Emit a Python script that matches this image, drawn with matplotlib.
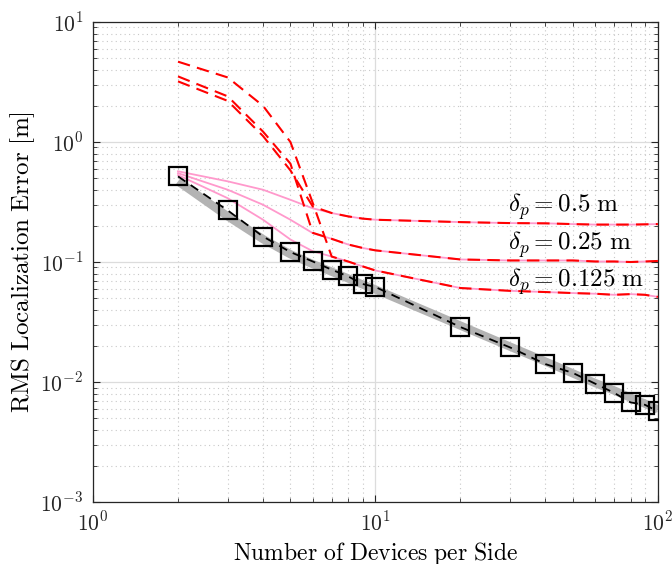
import math
import matplotlib
matplotlib.use("Agg")
import matplotlib.pyplot as plt
from matplotlib.ticker import FuncFormatter, LogLocator, NullFormatter

plt.rcParams['mathtext.fontset'] = 'cm'
plt.rcParams['font.family'] = ['DejaVu Serif']

# ---- data ----
N = [2, 3, 4, 5, 6, 7, 8, 9, 10, 20, 30, 40, 50, 60, 70, 80, 90, 100]
rmse_sim = [0.517, 0.269, 0.163, 0.121, 0.101, 0.0863, 0.0759, 0.0656, 0.0619,
            0.0287, 0.0194, 0.0141, 0.0119, 0.00968, 0.00812, 0.00676, 0.00646, 0.00569]
bound = [0.47, 0.24, 0.155, 0.116, 0.096, 0.083, 0.073, 0.065, 0.059,
         0.0295, 0.0197, 0.0148, 0.0118, 0.0098, 0.0085, 0.0074, 0.0066, 0.0059]

pink_05 = [0.57, 0.47, 0.40, 0.33, 0.28, 0.256, 0.24, 0.23, 0.225,
           0.215, 0.211, 0.21, 0.207, 0.205, 0.205, 0.205, 0.206, 0.207]
pink_025 = [0.55, 0.40, 0.30, 0.225, 0.174, 0.156, 0.14, 0.131, 0.125,
            0.105, 0.103, 0.103, 0.103, 0.101, 0.101, 0.100, 0.101, 0.102]
pink_0125 = [0.53, 0.34, 0.225, 0.154, 0.123, 0.111, 0.101, 0.092, 0.085,
             0.0607, 0.0575, 0.0562, 0.0551, 0.0544, 0.0533, 0.054, 0.0533, 0.0512]

red_05 = [3.2, 2.2, 1.12, 0.58, 0.29, 0.256, 0.24, 0.23, 0.225,
          0.215, 0.211, 0.21, 0.207, 0.205, 0.205, 0.205, 0.206, 0.207]
red_025 = [3.52, 2.4, 1.22, 0.66, 0.175, 0.156, 0.14, 0.131, 0.125,
           0.105, 0.103, 0.103, 0.103, 0.101, 0.101, 0.100, 0.101, 0.102]
red_0125 = [4.67, 3.45, 2.0, 1.0, 0.31, 0.111, 0.101, 0.092, 0.085,
            0.0607, 0.0575, 0.0562, 0.0551, 0.0544, 0.0533, 0.054, 0.0533, 0.0512]

labels = [r'$\delta_p = 0.5\ \mathrm{m}$', r'$\delta_p = 0.25\ \mathrm{m}$',
          r'$\delta_p = 0.125\ \mathrm{m}$']
label_x = [29.4, 29.4, 29.4]
label_y = [0.29, 0.139, 0.0685]

# ---- figure ----
fig = plt.figure(figsize=(6.72, 5.64), dpi=100)
ax = fig.add_axes([0.1384, 0.1099, 0.8406, 0.8511])
ax.set_xscale('log')
ax.set_yscale('log')

ax.plot(N, bound, color='#b3b3b3', lw=6.0, solid_capstyle='butt', zorder=2)
for p in (pink_05, pink_025, pink_0125):
    ax.plot(N, p, color='#ff99cc', lw=1.3, zorder=3)
for r in (red_05, red_025, red_0125):
    ax.plot(N, r, color='#ff0000', lw=1.5, dashes=(6, 3.5), zorder=4)
ax.plot(N, rmse_sim, color='black', lw=1.3, dashes=(5, 3.5), zorder=5)
ax.plot(N, rmse_sim, ls='none', marker='s', ms=13, mfc='none', mec='black',
        mew=1.6, zorder=6)

for t, xx, yy in zip(labels, label_x, label_y):
    ax.text(xx, yy, t, fontsize=18, ha='left', va='center', zorder=7)

ax.set_xlim(1, 100)
ax.set_ylim(1e-3, 10)

ax.xaxis.set_major_locator(LogLocator(base=10, numticks=10))
ax.yaxis.set_major_locator(LogLocator(base=10, numticks=10))
ax.xaxis.set_minor_locator(LogLocator(base=10, subs=range(2, 10), numticks=20))
ax.yaxis.set_minor_locator(LogLocator(base=10, subs=range(2, 10), numticks=20))
fmt = FuncFormatter(lambda v, pos: r'$10^{%d}$' % round(math.log10(v)))
ax.xaxis.set_major_formatter(fmt)
ax.yaxis.set_major_formatter(fmt)
ax.xaxis.set_minor_formatter(NullFormatter())
ax.yaxis.set_minor_formatter(NullFormatter())

ax.grid(True, which='major', color='#dcdcdc', lw=0.9, ls='-')
ax.grid(True, which='minor', color='#c8c8c8', lw=0.8, ls=(0, (1, 3)))
ax.set_axisbelow(True)

ax.tick_params(which='both', direction='in', top=True, right=True, colors='#262626')
ax.tick_params(which='major', length=5, labelsize=15.5, pad=7)
ax.tick_params(which='minor', length=3)
for s in ax.spines.values():
    s.set_color('#262626')
    s.set_linewidth(0.9)

ax.set_xlabel(r'$\mathrm{Number\ of\ Devices\ per\ Side}$', fontsize=17, labelpad=3)
ax.set_ylabel(r'$\mathrm{RMS\ Localization\ Error\ [m]}$', fontsize=18, labelpad=2)

fig.savefig('out.png', dpi=100)
